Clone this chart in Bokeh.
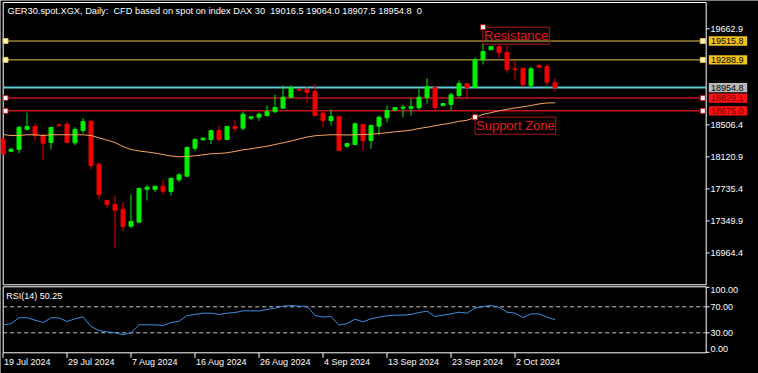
from bokeh.plotting import figure
from bokeh.models import Range1d
from bokeh.core.properties import value
from bokeh.embed import file_html
from bokeh.resources import INLINE

# ---------------- data ----------------
symbol_title = "GER30.spot.XGX, Daily:\u00a0 CFD based on spot on index DAX 30"

opens = [18338, 18189, 18210, 18454, 18487, 18378, 18294, 18507, 18514, 18290,
         18438, 18550, 18033, 17596, 17547, 17491, 17286, 17334, 17732, 17728,
         17768, 17704, 17845, 17888, 18225, 18327, 18330, 18438, 18330, 18487,
         18466, 18587, 18599, 18619, 18664, 18707, 18839, 18932, 18932, 18908,
         18647, 18559, 18607, 18249, 18270, 18511, 18318, 18490, 18591, 18683,
         18707, 18707, 18712, 18836, 18956, 18740, 18752, 18860, 19001, 18956,
         19290, 19410, 19450, 19378, 19181, 19189, 18980, 19221, 19209, 19016.5]
highs = [18352, 18225, 18490, 18655, 18526, 18399, 18475, 18519, 18547, 18478,
         18587, 18559, 18053, 17596, 17656, 17572, 17668, 17752, 17785, 17768,
         17837, 17864, 17924, 18246, 18346, 18358, 18438, 18499, 18487, 18559,
         18667, 18603, 18655, 18740, 18872, 18980, 18980, 18932, 18960, 18999,
         18671, 18688, 18615, 18282, 18535, 18511, 18511, 18611, 18740, 18715,
         18748, 18827, 18936, 19068, 18956, 18764, 18892, 19040, 19001, 19317,
         19482, 19450, 19474, 19462, 19290, 19189, 19209, 19233, 19237, 19064.0]
lows = [18150, 18185, 18165, 18438, 18318, 18077, 18210, 18495, 18294, 18262,
        18406, 17972, 17611, 17503, 17021, 17226, 17262, 17327, 17596, 17696,
        17668, 17656, 17816, 17888, 18186, 18318, 18274, 18306, 18330, 18418,
        18438, 18567, 18555, 18607, 18651, 18707, 18839, 18924, 18767, 18607,
        18478, 18499, 18198, 18230, 18261, 18189, 18218, 18386, 18538, 18683,
        18599, 18619, 18688, 18760, 18688, 18727, 18679, 18839, 18839, 18956,
        19233, 19410, 19309, 19133, 19053, 18960, 18947, 19201, 18980, 18907.5]
closes = [18158, 18213, 18478, 18487, 18378, 18286, 18475, 18495, 18294, 18451,
          18547, 18017, 17668, 17547, 17479, 17283, 17343, 17740, 17756, 17768,
          17708, 17864, 17905, 18234, 18330, 18346, 18438, 18330, 18487, 18463,
          18635, 18603, 18635, 18667, 18715, 18839, 18953, 18924, 18896, 18619,
          18559, 18607, 18198, 18282, 18519, 18318, 18499, 18599, 18679, 18715,
          18719, 18727, 18839, 18965, 18715, 18764, 18868, 19004, 18956, 19290,
          19390, 19450, 19374, 19173, 19173, 18989, 19181, 19201, 19020, 18954.8]
ma_values = [18390, 18378, 18378, 18387, 18387, 18378, 18387, 18387, 18387, 18387,
             18387, 18378, 18350, 18322, 18294, 18246, 18210, 18192, 18180, 18167,
             18149, 18131, 18122, 18125, 18134, 18146, 18158, 18162, 18170, 18186,
             18206, 18218, 18234, 18249, 18270, 18290, 18312, 18336, 18360, 18375,
             18382, 18387, 18387, 18384, 18387, 18390, 18394, 18402, 18411, 18423,
             18432, 18442, 18463, 18477, 18496, 18513, 18528, 18549, 18562, 18595,
             18633, 18653, 18676, 18694, 18709, 18724, 18739, 18758, 18770, 18772]
rsi_values = [42.3, 43.8, 53.1, 53.1, 49.5, 45.8, 53.1, 53.1, 47.4, 51.5,
              54.6, 39.7, 33.5, 31.5, 30.0, 26.9, 30.0, 42.3, 42.3, 42.3,
              41.2, 45.8, 47.8, 56.6, 58.2, 60.2, 60.2, 58.2, 60.2, 61.2,
              63.8, 63.8, 63.6, 65.8, 67.9, 71.0, 72.0, 71.0, 70.5, 56.6,
              54.1, 55.1, 41.7, 44.3, 50.9, 46.9, 51.5, 54.1, 56.1, 57.1,
              57.1, 58.2, 61.2, 63.3, 55.1, 57.1, 59.2, 61.7, 60.2, 67.9,
              70.5, 72.0, 69.4, 61.7, 60.2, 53.5, 59.2, 59.2, 54.1, 50.25]

date_tick_bars = [0, 8, 16, 24, 32, 40, 48, 56, 64]
date_tick_labels = ["19 Jul 2024", "29 Jul 2024", "7 Aug 2024", "16 Aug 2024",
                    "26 Aug 2024", "4 Sep 2024", "13 Sep 2024", "23 Sep 2024", "2 Oct 2024"]
price_ticks = [16964.4, 17349.9, 17735.4, 18120.9, 18506.4, 19662.9]
rsi_ticks_mid = [70, 30]
rsi_tick_top = 100
rsi_tick_bottom = 0
rsi_levels = [70, 30]

resistance_levels = [19515.8, 19288.9]
support_levels = [18829.1, 18675.0]
bid_price = 18954.8

note_texts = ["Resistance", "Support Zone"]
note_bars = [60, 59]
note_prices = [19682.0, 18598.6]

# ---------------- layout calibration (reference pixels -> data) ----------------
def xd(px):          # horizontal pixel -> bar index
    return (px - 2.5) / 8.0

def yd(px):          # vertical pixel -> price
    return 19662.9 - (px - 28.3) * 12.04

def rd(px):          # vertical pixel -> RSI value
    return 70.0 - (px - 306.3) / 0.65

W, H = 758, 373
FONT = value("Liberation Sans")
FS = value("9px")
BULL = "#00f000"
BEAR = "#f00000"
YEL_LINE = "#e6c24a"
YEL_BOX = "#f2c31b"
RED_LINE = "#c4161c"
RED_BOX = "#ff1010"
CYAN = "#5ac8d2"
BOX_HALF = 4.65 * 12.04

p = figure(width=W, height=H, x_range=Range1d(xd(0), xd(W)),
           y_range=Range1d(yd(H), yd(0)), output_backend="svg",
           toolbar_location=None, x_axis_location=None, y_axis_location=None,
           min_border=0, background_fill_color="black", border_fill_color="black",
           outline_line_color=None)
p.extra_y_ranges = {"rsi": Range1d(rd(H), rd(0))}
p.grid.visible = False

L, R = xd(2.7), xd(705.7)

# panel frames
p.quad(left=[L], right=[R], top=[yd(2)], bottom=[yd(284.3)],
       fill_color=None, line_color="white", line_width=1)
p.quad(left=[L], right=[R], top=[rd(286.3)], bottom=[rd(352.3)],
       fill_color=None, line_color="white", line_width=1, y_range_name="rsi")

# horizontal levels
for lv in resistance_levels:
    p.segment(x0=[L], y0=[lv], x1=[R], y1=[lv], line_color=YEL_LINE, line_width=1)
for lv in support_levels:
    p.segment(x0=[L], y0=[lv], x1=[R], y1=[lv], line_color=RED_LINE, line_width=1.5)
p.segment(x0=[L], y0=[bid_price], x1=[R], y1=[bid_price], line_color=CYAN, line_width=2)

# candles
xs = list(range(len(opens)))
bull_idx = [i for i in xs if closes[i] >= opens[i]]
bear_idx = [i for i in xs if closes[i] < opens[i]]
for idx, col in ((bull_idx, BULL), (bear_idx, BEAR)):
    p.segment(x0=idx, y0=[lows[i] for i in idx], x1=idx, y1=[highs[i] for i in idx],
              line_color=col, line_width=1)
    p.vbar(x=idx, width=0.5, top=[max(opens[i], closes[i]) for i in idx],
           bottom=[min(opens[i], closes[i]) for i in idx],
           fill_color=col, line_color=col, line_width=1)

# moving average
p.line(xs, ma_values, line_color="#f4a460", line_width=1)

# handles on selected lines
hx = [xd(5), xd(702.3)]
for lv in resistance_levels:
    p.scatter(hx, [lv, lv], marker="square", size=5, fill_color="#fff6c0",
              line_color=YEL_LINE, line_width=1)
for lv in support_levels:
    p.scatter(hx, [lv, lv], marker="square", size=5, fill_color="white",
              line_color=RED_LINE, line_width=1)

# notes
p.text(x=note_bars, y=note_prices, text=note_texts, text_align="left",
       text_baseline="top", text_color="#e41a1a", text_font=FONT,
       text_font_size=value("13px"), border_line_color="#b01414",
       border_line_width=1, padding=1)
p.scatter(note_bars, note_prices, marker="square", size=5, fill_color="white",
          line_color="#c01414", line_width=1)

# title
p.text(x=[xd(7)], y=[yd(10)],
       text=[f"{symbol_title}\u00a0 {opens[-1]} {highs[-1]:.1f} {lows[-1]} {closes[-1]}\u00a0 0"],
       text_align="left", text_baseline="middle", text_color="white",
       text_font=FONT, text_font_size=value("9.25px"))

# price axis: ticks + labels
k = len(price_ticks)
p.segment(x0=[R] * k, y0=price_ticks, x1=[xd(709)] * k, y1=price_ticks,
          line_color="white", line_width=1)
p.text(x=[xd(710)] * k, y=price_ticks, text=[f"{v:.1f}" for v in price_ticks],
       text_align="left", text_baseline="middle", text_color="white",
       text_font=FONT, text_font_size=FS)

# price boxes
boxes = [(lv, YEL_BOX, "black") for lv in resistance_levels] + \
        [(bid_price, "#b9b9b9", "black")] + \
        [(lv, RED_BOX, "#6e0000") for lv in support_levels]
for lv, bg, fg in boxes:
    p.quad(left=[xd(708.3)], right=[xd(746.7)], top=[lv + BOX_HALF], bottom=[lv - BOX_HALF],
           fill_color=bg, line_color=None)
    p.text(x=[xd(710.5)], y=[lv], text=[f"{lv:.1f}"], text_align="left",
           text_baseline="middle", text_color=fg, text_font=FONT, text_font_size=FS)

# ---------------- RSI panel ----------------
for lv in rsi_levels:
    p.segment(x0=[L], y0=[lv], x1=[R], y1=[lv], line_color="#c8c8c8", line_width=1,
              line_dash="4 3", y_range_name="rsi")
p.line(xs, rsi_values, line_color="#3b8de0", line_width=1, y_range_name="rsi")

rsi_all = [rsi_tick_top] + rsi_ticks_mid + [rsi_tick_bottom]
p.segment(x0=[R] * 4, y0=rsi_all, x1=[xd(709)] * 4, y1=rsi_all, line_color="white",
          line_width=1, y_range_name="rsi")
p.text(x=[xd(710)], y=[rsi_tick_top], text=[f"{rsi_tick_top:.2f}"], text_align="left",
       text_baseline="top", text_color="white", text_font=FONT, text_font_size=FS,
       y_range_name="rsi")
p.text(x=[xd(710)] * 2, y=rsi_ticks_mid, text=[f"{v:.2f}" for v in rsi_ticks_mid],
       text_align="left", text_baseline="middle", text_color="white", text_font=FONT,
       text_font_size=FS, y_range_name="rsi")
p.text(x=[xd(710)], y=[rsi_tick_bottom], text=[f"{rsi_tick_bottom:.2f}"], text_align="left",
       text_baseline="bottom", text_color="white", text_font=FONT, text_font_size=FS,
       y_range_name="rsi")

p.text(x=[xd(5.7)], y=[rd(295.5)], text=[f"RSI(14) {rsi_values[-1]:.2f}"],
       text_align="left", text_baseline="middle", text_color="white", text_font=FONT,
       text_font_size=FS, y_range_name="rsi")

# date axis
m = len(date_tick_bars)
p.segment(x0=date_tick_bars, y0=[rd(352.3)] * m, x1=date_tick_bars, y1=[rd(357.3)] * m,
          line_color="white", line_width=1, y_range_name="rsi")
p.text(x=date_tick_bars, y=[rd(361)] * m, text=date_tick_labels, x_offset=1,
       text_align="left", text_baseline="middle", text_color="white", text_font=FONT,
       text_font_size=FS, y_range_name="rsi")

open("out.html", "w").write(file_html(p, INLINE))
